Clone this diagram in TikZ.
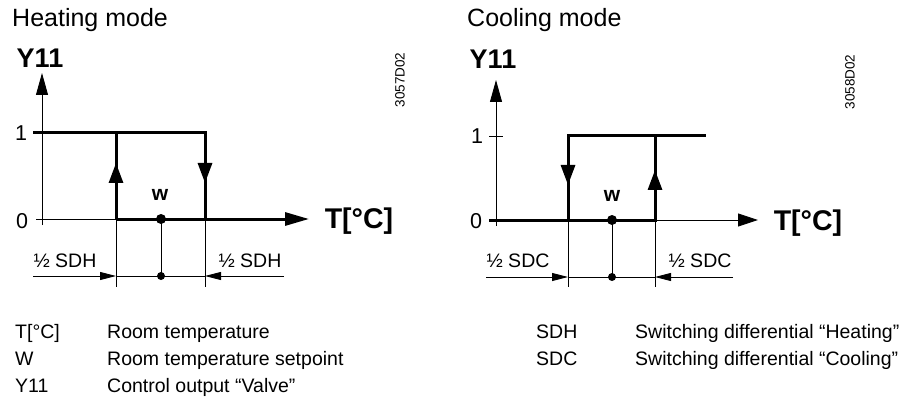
\documentclass[tikz,border=0pt]{standalone}
\usepackage{fontspec}
\setmainfont{Liberation Sans}
\usetikzlibrary{arrows.meta}

\tikzset{
  axisline/.style={line width=0.9pt},
  heavy/.style={line width=3pt, line join=miter},
  axistip/.style={-{Triangle[length=22pt,width=12pt]}},
  flowtip/.style={-{Triangle[length=20pt,width=14pt]}},
  dimtip/.style={-{Triangle[length=16pt,width=8pt]}},
  txt/.style={inner sep=0pt, anchor=base west, font=\fontsize{19.5pt}{22pt}\selectfont},
  title/.style={inner sep=0pt, anchor=base west, font=\fontsize{25pt}{28pt}\selectfont},
  axlabel/.style={inner sep=0pt, font=\bfseries\fontsize{27pt}{30pt}\selectfont},
  tlabel/.style={inner sep=0pt, font=\bfseries\fontsize{28.5pt}{32pt}\selectfont},
  wlabel/.style={inner sep=0pt, font=\bfseries\fontsize{21pt}{24pt}\selectfont},
  numlabel/.style={inner sep=0pt, font=\fontsize{21.5pt}{24pt}\selectfont},
  halflabel/.style={inner sep=0pt, font=\fontsize{19.5pt}{22pt}\selectfont},
  codelabel/.style={inner sep=0pt, rotate=90, font=\fontsize{13.5pt}{15pt}\selectfont},
}

\begin{document}
\begin{tikzpicture}[x=1pt,y=-1pt]
  \useasboundingbox (0,0) rectangle (907,414);

  % heating mode
  \node[title] (htitle) at (12,27) {Heating mode};
  \node[axlabel] (hY) at (40,58) {Y11};
  \node[codelabel] (hcode) at (400,80) {3057D02};
  \coordinate (hyb) at (42,225);
  \coordinate (hy) at (42,73);
  \coordinate (hx0) at (36,219);
  \coordinate (hx) at (309,219);
  \coordinate (hone) at (33,133);
  \coordinate (hon) at (116,219);
  \coordinate (hon1) at (116,133);
  \coordinate (hon2) at (116,287);
  \coordinate (hup) at (116,163);
  \coordinate (hoff) at (205,219);
  \coordinate (hoff1) at (205,133);
  \coordinate (hoff2) at (205,287);
  \coordinate (hdown) at (205,183);
  \coordinate (hw) at (161,219);
  \coordinate (hwd) at (161,276);
  \coordinate (hdl) at (33,276);
  \coordinate (hdr) at (284,276);
  \coordinate (hdm1) at (116,276);
  \coordinate (hdm2) at (205,276);
  \draw[axisline,axistip] (hyb) -- (hy);
  \draw[axisline] (hx0) -- (hon);
  \draw[axisline] (hon) -- (hon2);
  \draw[axisline] (hoff) -- (hoff2);
  \draw[axisline] (hw) -- (hwd);
  \draw[axisline,dimtip] (hdl) -- (hdm1);
  \draw[axisline,dimtip] (hdr) -- (hdm2);
  \draw[axisline] (hdm1) -- (hdm2);
  \draw[heavy,-{Triangle[length=24pt,width=13pt]}] (hon) -- (hx);
  \draw[heavy] (hone) -- (hoff1) -- (hoff);
  \draw[heavy] (hon) -- (hon1);
  \draw[heavy,flowtip] (hon) -- (hup);
  \draw[heavy,flowtip] (hoff1) -- (hdown);
  \fill (hw) circle (5);
  \fill (hwd) circle (4);
  \node[numlabel] (hl1) at (21,133) {1};
  \node[numlabel] (hl0) at (22,221) {0};
  \node[wlabel] (hwl) at (160,195) {w};
  \node[tlabel] (hT) at (359,221) {T[°C]};
  \node[halflabel] (hs1) at (65,261) {½ SDH};
  \node[halflabel] (hs2) at (250,261) {½ SDH};

  % cooling mode
  \node[title] (ctitle) at (467,27) {Cooling mode};
  \node[axlabel] (cY) at (493,59) {Y11};
  \node[codelabel] (ccode) at (850,82) {3058D02};
  \coordinate (cyb) at (496,226);
  \coordinate (cy) at (496,80);
  \coordinate (cx0) at (496,220);
  \coordinate (cx) at (758,220);
  \coordinate (czero) at (489,220);
  \coordinate (ct1) at (489,136);
  \coordinate (ct2) at (503,136);
  \coordinate (coff) at (568,220);
  \coordinate (coff1) at (568,136);
  \coordinate (coff2) at (568,287);
  \coordinate (cdown) at (568,185);
  \coordinate (con) at (655,220);
  \coordinate (con1) at (655,136);
  \coordinate (con2) at (655,287);
  \coordinate (cup) at (655,170);
  \coordinate (cend) at (706,136);
  \coordinate (cw) at (612,220);
  \coordinate (cwd) at (612,277);
  \coordinate (cdl) at (486,277);
  \coordinate (cdr) at (733,277);
  \coordinate (cdm1) at (568,277);
  \coordinate (cdm2) at (655,277);
  \draw[axisline,axistip] (cyb) -- (cy);
  \draw[axisline,-{Triangle[length=20pt,width=13pt]}] (cx0) -- (cx);
  \draw[axisline] (ct1) -- (ct2);
  \draw[axisline] (coff) -- (coff2);
  \draw[axisline] (con) -- (con2);
  \draw[axisline] (cw) -- (cwd);
  \draw[axisline,dimtip] (cdl) -- (cdm1);
  \draw[axisline,dimtip] (cdr) -- (cdm2);
  \draw[axisline] (cdm1) -- (cdm2);
  \draw[heavy] (czero) -- (con) -- (con1);
  \draw[heavy] (coff) -- (coff1) -- (cend);
  \draw[heavy,flowtip] (coff1) -- (cdown);
  \draw[heavy,flowtip] (con) -- (cup);
  \fill (cw) circle (5);
  \fill (cwd) circle (4);
  \node[numlabel] (cl1) at (477,136) {1};
  \node[numlabel] (cl0) at (476,221) {0};
  \node[wlabel] (cwl) at (612,196) {w};
  \node[tlabel] (cT) at (808,223) {T[°C]};
  \node[halflabel] (cs1) at (518,261) {½ SDC};
  \node[halflabel] (cs2) at (700,261) {½ SDC};

  % legend
  \node[txt] (k1) at (15,338) {T[°C]};
  \node[txt] (v1) at (107,338) {Room temperature};
  \node[txt] (k2) at (15,365) {W};
  \node[txt] (v2) at (107,365) {Room temperature setpoint};
  \node[txt] (k3) at (15,392) {Y11};
  \node[txt] (v3) at (107,392) {Control output “Valve”};
  \node[txt] (k4) at (536,338) {SDH};
  \node[txt] (v4) at (635,338) {Switching differential “Heating”};
  \node[txt] (k5) at (536,365) {SDC};
  \node[txt] (v5) at (635,365) {Switching differential “Cooling”};
\end{tikzpicture}
\end{document}
